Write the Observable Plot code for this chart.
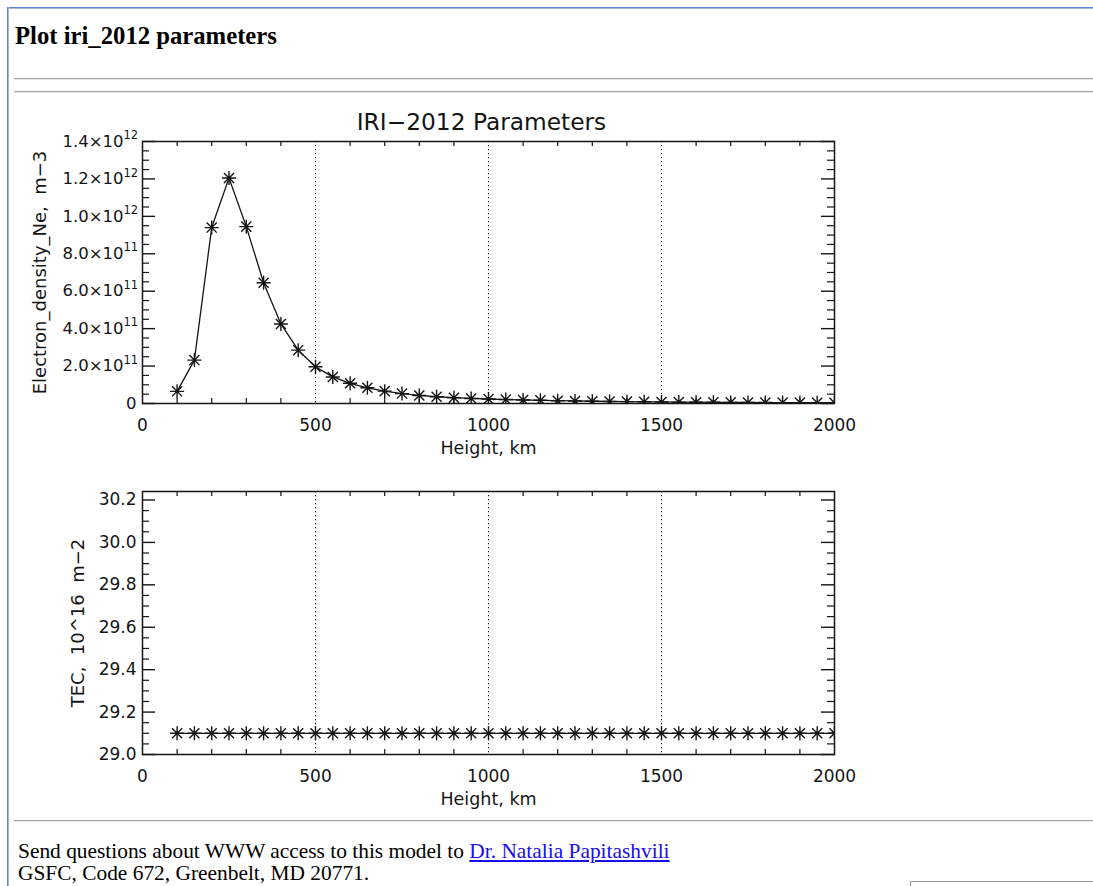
<!DOCTYPE html>
<html>
<head>
<meta charset="utf-8">
<script src="https://cdn.jsdelivr.net/npm/d3@7"></script>
<script src="https://cdn.jsdelivr.net/npm/@observablehq/plot@0.6"></script>
<style>
  html, body { margin: 0; padding: 0; background: #fff; width: 1093px; height: 886px; overflow: hidden; }
  body { position: relative; }
  .frame-top { position: absolute; left: 7px; top: 7px; width: 1100px; height: 0; border-top: 1px solid #5b86d0; border-bottom: 1px solid #aab6cc; }
  .frame-left { position: absolute; left: 7px; top: 7px; width: 0; height: 900px; border-left: 1px solid #5b86d0; border-right: 1px solid #aab6cc; }
  .hr { position: absolute; left: 14px; width: 1090px; height: 0; border-top: 1px solid #a3a3a3; border-bottom: 1px solid #e6e6e6; }
  h2 { position: absolute; left: 15px; top: 21px; margin: 0; font-family: "Liberation Serif", "Times New Roman", serif; font-weight: bold; font-size: 24.7px; line-height: 30px; color: #000; }
  .footer { position: absolute; left: 18px; top: 840px; font-family: "Liberation Serif", "Times New Roman", serif; font-size: 21.4px; line-height: 22px; color: #000; white-space: nowrap; }
  .footer a { color: #1a0dee; text-decoration: underline; }
  .box { position: absolute; left: 910px; top: 881px; width: 200px; height: 20px; border-top: 1px solid #9a9a9a; border-left: 1px solid #9a9a9a; }
  .chart { position: absolute; left: 0; }
</style>
</head>
<body>
<div class="frame-top"></div>
<div class="frame-left"></div>
<h2>Plot iri_2012 parameters</h2>
<div class="hr" style="top:78px"></div>
<div class="hr" style="top:91px"></div>
<div id="c1" class="chart" style="top:100px"></div>
<div id="c2" class="chart" style="top:470px"></div>
<div class="hr" style="top:820px"></div>
<div class="footer">Send questions about WWW access to this model to <a href="#">Dr. Natalia Papitashvili</a><br>GSFC, Code 672, Greenbelt, MD 20771.</div>
<div class="box"></div>
<script>
// ---- data ----
const heights = [100,150,200,250,300,350,400,450,500,550,600,650,700,750,800,850,900,950,1000,
  1050,1100,1150,1200,1250,1300,1350,1400,1450,1500,1550,1600,1650,1700,1750,1800,1850,1900,1950,2000];
const electronDensity = [6.5e10,2.32e11,9.4e11,1.205e12,9.45e11,6.45e11,4.25e11,2.85e11,1.96e11,
  1.42e11,1.08e11,8.4e10,6.6e10,5.3e10,4.3e10,3.6e10,3.1e10,2.7e10,2.4e10,
  2.1e10,1.9e10,1.7e10,1.5e10,1.35e10,1.2e10,1.1e10,1.0e10,9.0e9,8.2e9,
  7.5e9,6.9e9,6.4e9,5.9e9,5.5e9,5.1e9,4.8e9,4.5e9,4.2e9,4.0e9];
const tecValues = [29.1,29.1,29.1,29.1,29.1,29.1,29.1,29.1,29.1,29.1,29.1,29.1,29.1,
  29.1,29.1,29.1,29.1,29.1,29.1,29.1,29.1,29.1,29.1,29.1,29.1,29.1,
  29.1,29.1,29.1,29.1,29.1,29.1,29.1,29.1,29.1,29.1,29.1,29.1,29.1];
const xTicks = [0, 500, 1000, 1500, 2000];
const xTickLabels = ["0", "500", "1000", "1500", "2000"];
const xGrid = [500, 1000, 1500];
const neTicks = [0, 2e11, 4e11, 6e11, 8e11, 1e12, 1.2e12, 1.4e12];
const neTickMantissa = ["0","2.0×10","4.0×10","6.0×10","8.0×10","1.0×10","1.2×10","1.4×10"];
const neTickExponent = ["","11","11","11","11","12","12","12"];
const tecTicks = [29.0, 29.2, 29.4, 29.6, 29.8, 30.0, 30.2];
const tecTickLabels = ["29.0","29.2","29.4","29.6","29.8","30.0","30.2"];
const chartTitle = "IRI−2012 Parameters";
const xTitle = "Height, km";
const neTitle = "Electron_density_Ne,  m−3";
const tecTitle = "TEC,  10^16  m−2";

const xMinor = d3.range(0, 2001, 100).filter(d => d % 500 !== 0);
const neMinor = d3.range(0, 29).map(i => i * 5e10).filter((d, i) => i % 4 !== 0);
const tecMinor = d3.range(0, 25).map(i => 29 + i * 0.05).filter((d, i) => i % 4 !== 0);

const ink = "#151515";
const asterisk = {
  draw(context, size) {
    const r = Math.sqrt(size / Math.PI);
    const d = r * 0.72;
    context.moveTo(0, -r); context.lineTo(0, r);
    context.moveTo(-r, 0); context.lineTo(r, 0);
    context.moveTo(-d, -d); context.lineTo(d, d);
    context.moveTo(-d, d); context.lineTo(d, -d);
  }
};

function panel({values, yDomain, yAxisMarks, yMinor, yTicks, yTitle, yTitleDx, title, height, mTop, mBottom}) {
  const W = 1093, mL = 142, mR = 259;
  const FW = W - mL - mR;
  const FH = height - mTop - mBottom;
  const rows = heights.map((h, i) => ({h, v: values[i]}));
  const marks = [
    Plot.ruleX(xGrid, {x: d => d, stroke: ink, strokeWidth: 1.1, strokeDasharray: "1.3,2.7"}),
    Plot.tickX(xMinor, {x: d => d, stroke: ink, strokeWidth: 1.2, insetTop: FH - 5}),
    Plot.tickX(xMinor, {x: d => d, stroke: ink, strokeWidth: 1.2, insetBottom: FH - 5}),
    Plot.tickY(yTicks, {y: d => d, stroke: ink, strokeWidth: 1.4, insetRight: FW - 13}),
    Plot.tickY(yTicks, {y: d => d, stroke: ink, strokeWidth: 1.4, insetLeft: FW - 13}),
    Plot.tickY(yMinor, {y: d => d, stroke: ink, strokeWidth: 1.2, insetRight: FW - 7}),
    Plot.tickY(yMinor, {y: d => d, stroke: ink, strokeWidth: 1.2, insetLeft: FW - 7}),
    Plot.frame({stroke: ink, strokeWidth: 1.5}),
    Plot.line(rows, {x: "h", y: "v", stroke: ink, strokeWidth: 1.3, clip: true}),
    Plot.dot(rows, {x: "h", y: "v", symbol: asterisk, r: 7, fill: "none", stroke: ink, strokeWidth: 1.4, clip: true}),
    Plot.axisX(xTicks, {anchor: "bottom", tickSize: 0, tickPadding: 15, label: null, fontSize: 17,
      tickFormat: d => xTickLabels[xTicks.indexOf(d)]}),
    ...yAxisMarks,
    Plot.text([xTitle], {text: d => d, frameAnchor: "bottom", dy: 45, fontSize: 17.5, lineAnchor: "middle"}),
    Plot.text([yTitle], {text: d => d, frameAnchor: "left", rotate: -90, dx: yTitleDx, fontSize: 18, lineAnchor: "middle", textAnchor: "middle"})
  ];
  if (title) marks.push(Plot.text([title], {text: d => d, frameAnchor: "top", dx: -7, dy: -19, fontSize: 23.3, lineAnchor: "middle"}));
  return Plot.plot({
    width: W, height,
    marginLeft: mL, marginRight: mR, marginTop: mTop, marginBottom: mBottom,
    style: {fontFamily: "'DejaVu Sans', sans-serif", fontSize: "17px", color: ink, background: "transparent", overflow: "visible"},
    x: {domain: [0, 2000]},
    y: {domain: yDomain},
    marks
  });
}

const nePos = neTicks.slice(1);
const neAxisMarks = [
  Plot.axisY([0], {anchor: "left", tickSize: 0, tickPadding: 6, label: null, fontSize: 16.5, tickFormat: () => neTickMantissa[0]}),
  Plot.axisY(nePos, {anchor: "left", tickSize: 0, tickPadding: 19, label: null, fontSize: 16.5,
    tickFormat: d => neTickMantissa[neTicks.indexOf(d)]}),
  Plot.text(nePos, {y: d => d, text: d => neTickExponent[neTicks.indexOf(d)], frameAnchor: "left",
    dx: -19, dy: -6, textAnchor: "start", fontSize: 11.5, lineAnchor: "middle"})
];
const tecAxisMarks = [
  Plot.axisY(tecTicks, {anchor: "left", tickSize: 0, tickPadding: 6, label: null, fontSize: 17,
    tickFormat: d => tecTickLabels[tecTicks.indexOf(d)]})
];

document.getElementById("c1").append(panel({
  values: electronDensity, yDomain: [0, 1.4e12], yAxisMarks: neAxisMarks, yTicks: neTicks, yMinor: neMinor,
  yTitle: neTitle, yTitleDx: -102, title: chartTitle, height: 370, mTop: 41, mBottom: 67
}));
document.getElementById("c2").append(panel({
  values: tecValues, yDomain: [29.0, 30.24], yAxisMarks: tecAxisMarks, yTicks: tecTicks, yMinor: tecMinor,
  yTitle: tecTitle, yTitleDx: -64, title: null, height: 350, mTop: 21, mBottom: 66
}));
</script>
</body>
</html>
